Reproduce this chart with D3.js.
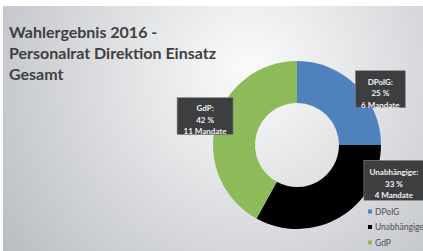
<!DOCTYPE html>
<html>
<head>
<meta charset="utf-8">
<script src="https://cdn.jsdelivr.net/npm/d3@7"></script>
<style>
  body { margin: 0; background: #fff; }
  svg { display: block; }
</style>
</head>
<body>
<script>
var width = 423;
var height = 251;

var titleLines = ['Wahlergebnis 2016 -', 'Personalrat Direktion Einsatz', 'Gesamt'];
var parties = ['DPolG', 'Unabhängige', 'GdP'];
var shares = [25, 33, 42];
var seats = [6, 4, 11];
var colors = ['#4f81bd', '#000000', '#8dbb5a'];

// label nudges away from the arc centroid (Excel "best fit")
var labelShift = [[14, 14], [47, -49], [3, -4]];

var cx = 297, cy = 145, outerR = 84, innerR = 42;

var svg = d3.select('body')
    .append('svg')
    .attr('width', width)
    .attr('height', height);

var defs = svg.append('defs');
var grad = defs.append('radialGradient')
    .attr('id', 'bg')
    .attr('gradientUnits', 'userSpaceOnUse')
    .attr('cx', 250).attr('cy', 70).attr('r', 320);
grad.append('stop').attr('offset', '0%').attr('stop-color', '#fbfbfb');
grad.append('stop').attr('offset', '35%').attr('stop-color', '#e4e5e7');
grad.append('stop').attr('offset', '100%').attr('stop-color', '#b6bac0');

svg.append('rect')
    .attr('width', width).attr('height', height).attr('fill', '#ffffff');
svg.append('rect')
    .attr('x', 3).attr('y', 6)
    .attr('width', width - 3).attr('height', height - 6)
    .attr('fill', 'url(#bg)');

svg.append('g')
    .selectAll('text')
    .data(titleLines)
    .enter()
    .append('text')
    .attr('x', 9)
    .attr('y', function(d, i) { return 38 + i * 21; })
    .attr('font-family', 'Lato, sans-serif')
    .attr('font-weight', 'bold')
    .attr('font-size', '16px')
    .attr('fill', '#404040')
    .text(function(d) { return d; });

var pie = d3.pie().sort(null).value(function(d) { return d; });
var arcs = pie(shares);

var arc = d3.arc().innerRadius(innerR).outerRadius(outerR);
var labelArc = d3.arc().innerRadius(98).outerRadius(98);

var chart = svg.append('g')
    .attr('transform', 'translate(' + cx + ',' + cy + ')');

chart.selectAll('path')
    .data(arcs)
    .enter()
    .append('path')
    .attr('d', arc)
    .attr('fill', function(d, i) { return colors[i]; });

var labels = chart.selectAll('g.label')
    .data(arcs)
    .enter()
    .append('g')
    .attr('class', 'label')
    .attr('transform', function(d, i) {
        var c = labelArc.centroid(d);
        return 'translate(' + (c[0] + labelShift[i][0]) + ',' + (c[1] + labelShift[i][1]) + ')';
    });

labels.append('rect')
    .attr('x', function(d, i) { return i === 1 ? -30 : (i === 2 ? -28 : -25); })
    .attr('y', function(d, i) { return i === 1 ? -20 : -19; })
    .attr('width', function(d, i) { return i === 1 ? 62 : (i === 2 ? 56 : 50); })
    .attr('height', function(d, i) { return i === 1 ? 40 : 37; })
    .attr('fill', '#3d3e40')
    .attr('stroke', '#8a8c90')
    .attr('stroke-width', 0.6);

labels.each(function(d, i) {
    var g = d3.select(this);
    var lines = [parties[i] + ':', shares[i] + ' %', seats[i] + ' Mandate'];
    g.selectAll('text')
        .data(lines)
        .enter()
        .append('text')
        .attr('x', 0)
        .attr('y', function(t, j) { return -8 + j * 11.5 + 2.8; })
        .attr('text-anchor', 'middle')
        .attr('font-family', 'Lato, sans-serif')
        .attr('font-weight', 'bold')
        .attr('font-size', '8px')
        .attr('fill', '#f2f2f2')
        .text(function(t) { return t; });
});

var legend = svg.append('g')
    .selectAll('g')
    .data(parties)
    .enter()
    .append('g')
    .attr('transform', function(d, i) { return 'translate(368,' + (212 + i * 15.5) + ')'; });

legend.append('rect')
    .attr('x', 0).attr('y', -2.5)
    .attr('width', 4).attr('height', 4)
    .attr('fill', function(d, i) { return colors[i]; });

legend.append('text')
    .attr('x', 7)
    .attr('y', 2.8)
    .attr('font-family', 'Lato, sans-serif')
    .attr('font-size', '8.5px')
    .attr('fill', '#505050')
    .text(function(d) { return d; });
</script>
</body>
</html>
